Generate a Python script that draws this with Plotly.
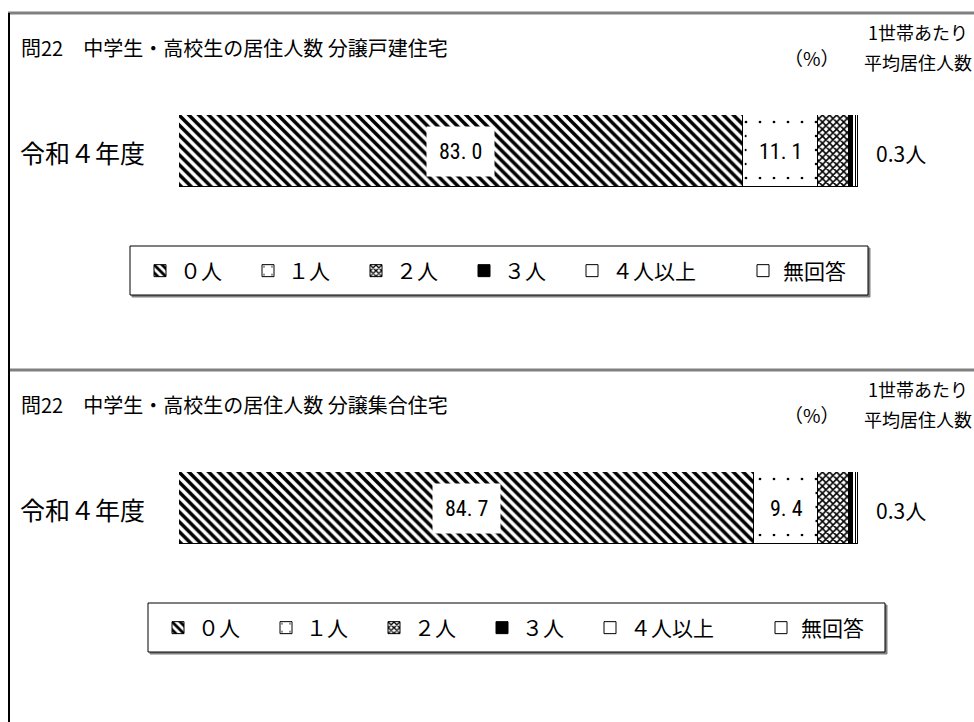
import plotly.graph_objects as go

# 凡例カテゴリ
categories = ["０人", "１人", "２人", "３人", "４人以上", "無回答"]
year_label = "令和４年度"

# 分譲戸建住宅 (%)
detached = [83.0, 11.1, 4.6, 0.6, 0.4, 0.3]
# 分譲集合住宅 (%)
condo = [84.7, 9.4, 4.6, 0.6, 0.4, 0.3]

avg_detached = "0.3人"
avg_condo = "0.3人"

titles = ["問22　中学生・高校生の居住人数 分譲戸建住宅",
          "問22　中学生・高校生の居住人数 分譲集合住宅"]

# 凡例の間隔あけ用 (全角スペース)
legend_pad = ["　", "　", "　", "　", "　　", ""]

# 模様
patterns = [
    dict(shape="\\", size=7, solidity=0.5, fgcolor="black", bgcolor="white", fgopacity=1),
    dict(shape=".", size=14, solidity=0.03, fgcolor="black", bgcolor="white", fgopacity=1),
    dict(shape="x", size=5, solidity=0.55, fgcolor="black", bgcolor="white", fgopacity=1),
    dict(shape=""),
    dict(shape=""),
    dict(shape=""),
]
colors = ["white", "white", "white", "black", "white", "white"]

W, H = 974, 722
FONT = "Noto Sans CJK JP"
BLACK = "black"


def px(x):
    return x / W


def py(y):
    return 1 - y / H


def label(x, y, text, size, anchor="center"):
    fig.add_annotation(x=px(x), y=py(y), xref="paper", yref="paper",
                       xanchor=anchor, yanchor="middle", text=text, showarrow=False,
                       font=dict(size=size, family=FONT, color=BLACK))


fig = go.Figure()

panels = [
    dict(vals=detached, avg=avg_detached, title=titles[0], off=0, legend="legend",
         xa="x", ya="y", box=(130, 246, 868, 295)),
    dict(vals=condo, avg=avg_condo, title=titles[1], off=357, legend="legend2",
         xa="x2", ya="y2", box=(148, 603, 885, 652)),
]

for p in panels:
    for i, cat in enumerate(categories):
        fig.add_trace(go.Bar(
            y=[year_label], x=[p["vals"][i]], orientation="h", name=cat + legend_pad[i],
            marker=dict(color=colors[i], pattern=patterns[i],
                        line=dict(color="black", width=1)),
            xaxis=p["xa"], yaxis=p["ya"], legend=p["legend"],
            hovertemplate=cat + ": %{x:.1f}%<extra></extra>",
        ))

    # 値ラベル (0人, 1人)
    left = 0
    for i, v in enumerate(p["vals"]):
        if v >= 5:
            fig.add_annotation(x=left + v / 2, y=year_label, xref=p["xa"], yref=p["ya"],
                               text=f"{v:.1f}".replace(".", ". "), showarrow=False,
                               bgcolor="white", borderpad=12,
                               font=dict(size=22, color=BLACK,
                                         family="Liberation Sans Narrow, Roboto Condensed, Roboto"))
        left += v

    o = p["off"]
    label(19, 47 + o, p["title"], 20, "left")
    label(812, 57 + o, "（%）", 19)
    label(918, 32 + o, "1世帯あたり", 18)
    label(918, 62 + o, "平均居住人数", 18)
    label(18, 152 + o, year_label, 25, "left")
    label(874, 153 + o, p["avg"], 21, "left")

    # 凡例の枠
    x0, y0, x1, y1 = p["box"]
    fig.add_shape(type="rect", xref="paper", yref="paper",
                  x0=px(x0 + 2), y0=py(y1 + 2), x1=px(x1 + 2), y1=py(y0 + 2),
                  line=dict(color="#808080", width=1), fillcolor="#808080", layer="below")
    fig.add_shape(type="rect", xref="paper", yref="paper",
                  x0=px(x0), y0=py(y1), x1=px(x1), y1=py(y0),
                  line=dict(color="black", width=1), fillcolor="white", layer="below")

# 枠線
fig.add_shape(type="line", xref="paper", yref="paper", x0=px(8), x1=1, y0=py(13), y1=py(13),
              line=dict(color="#808080", width=3))
fig.add_shape(type="line", xref="paper", yref="paper", x0=px(8), x1=1, y0=py(370), y1=py(370),
              line=dict(color="#808080", width=3))
fig.add_shape(type="line", xref="paper", yref="paper", x0=px(9), x1=px(9), y0=0, y1=py(13),
              line=dict(color="black", width=2))

xdom = [px(179), px(858)]
ax_common = dict(range=[0, 100], showgrid=False, zeroline=False, showticklabels=False,
                 showline=False, fixedrange=True)
ay_common = dict(showticklabels=False, showgrid=False, zeroline=False, showline=False,
                 fixedrange=True)

legend_common = dict(orientation="h", bgcolor="rgba(0,0,0,0)", borderwidth=0,
                     traceorder="normal",
                     font=dict(size=21, family=FONT, color=BLACK),
                     xanchor="left", yanchor="middle",
                     itemclick=False, itemdoubleclick=False)

fig.update_layout(
    width=W, height=H,
    margin=dict(l=0, r=0, t=0, b=0),
    paper_bgcolor="white", plot_bgcolor="white",
    barmode="stack", bargap=0,
    xaxis=dict(domain=xdom, anchor="y", **ax_common),
    yaxis=dict(domain=[py(187), py(115)], anchor="x", **ay_common),
    xaxis2=dict(domain=xdom, anchor="y2", **ax_common),
    yaxis2=dict(domain=[py(544), py(472)], anchor="x2", **ay_common),
    legend=dict(x=px(140), y=py(271), **legend_common),
    legend2=dict(x=px(158), y=py(628), **legend_common),
    font=dict(family=FONT, color=BLACK),
)

fig.write_html("out.html", config={"displayModeBar": False},
               post_script="document.body.style.margin='0';")
